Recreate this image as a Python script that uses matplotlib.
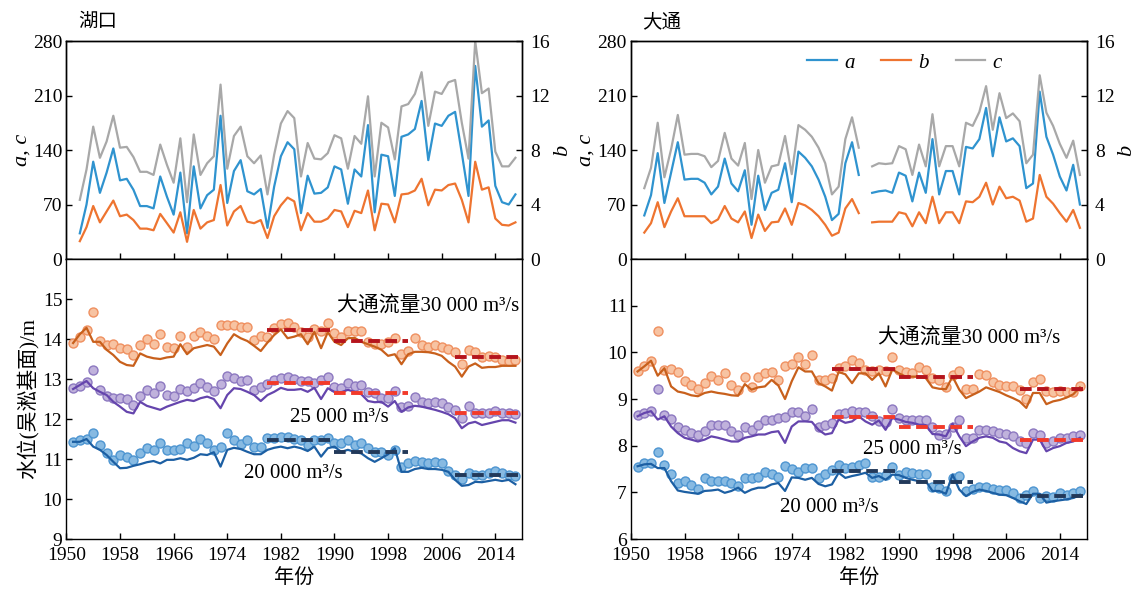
import numpy as np
import matplotlib
matplotlib.use('Agg')
import matplotlib.pyplot as plt

plt.rcParams['font.family'] = ['Liberation Serif', 'Noto Sans CJK SC']
plt.rcParams['axes.unicode_minus'] = False

# ---------------- top panels: a, c (left axis) and b (right axis) ----------------
years_top = np.arange(1952, 2018)

hk_a = [33, 70, 125, 85, 111, 142, 101, 103, 89, 68, 68, 65, 106, 80, 57, 111, 33, 119, 65, 82,
        89, 184, 72, 113, 127, 87, 83, 90, 40, 93, 132, 150, 141,
        59, 107, 84, 85, 92, 119, 115, 71, 115, 106, 172, 60, 134, 132, 81, 157, 160, 167, 203,
        127, 174, 171, 184, 189, 136, 81, 248, 170, 178, 94, 73, 70, 83]
hk_b = [1.31, 2.34, 3.89, 2.69, 3.49, 4.29, 3.14, 3.26, 2.86, 2.23, 2.23, 2.11, 3.31, 2.63, 1.94,
        3.43, 1.26, 3.60, 2.23, 2.69, 2.86, 5.43, 2.46, 3.49, 3.89, 2.74, 2.63, 2.86, 1.54, 3.14,
        3.94, 4.51, 4.23,
        2.11, 3.37, 2.74, 2.74, 2.97, 3.60, 3.49, 2.34, 3.54, 3.37, 5.03, 2.11, 4.06, 4.00, 2.69,
        4.74, 4.80, 5.03, 5.89, 3.94, 5.09, 5.03, 5.43, 5.54, 4.34, 2.69, 7.14, 5.09, 5.26, 2.97,
        2.51, 2.46, 2.69]
hk_c = [76, 115, 170, 130, 151, 184, 143, 144, 131, 112, 112, 108, 147, 121, 98, 155, 73, 160, 108,
        123, 132, 224, 116, 158, 170, 132, 123, 133, 83, 134, 174, 190, 181,
        106, 149, 129, 128, 136, 159, 155, 116, 158, 148, 209, 106, 175, 169, 128, 196, 199, 212,
        240, 171, 215, 212, 227, 230, 175, 129, 280, 213, 219, 138, 119, 119, 130]

nan = np.nan
dt_a = [56, 82, 136, 72, 111, 150, 102, 103, 103, 98, 83, 93, 129, 97, 87, 114, 44, 107, 63, 85,
        89, 123, 73, 138, 130, 119, 102, 80, 50, 58, 123, 150, 108,
        nan,
        85, 87, 88, 85, 111, 107, 74, 111, 85, 154, 83, 113, 113, 83, 144, 142, 154, 194, 132, 182,
        151, 155, 145, 91, 97, 215, 157, 134, 106, 88, 121, 70]
dt_b = [1.94, 2.63, 4.17, 2.34, 3.49, 4.46, 3.14, 3.14, 3.14, 3.14, 2.63, 2.91, 3.89, 2.97, 2.69,
        3.49, 1.54, 3.26, 2.06, 2.69, 2.74, 3.71, 2.51, 4.11, 3.94, 3.60, 3.14, 2.51, 1.71, 1.94,
        3.71, 4.40, 3.37,
        nan,
        2.69, 2.74, 2.74, 2.74, 3.43, 3.31, 2.40, 3.43, 2.63, 4.57, 2.63, 3.43, 3.43, 2.63, 4.23,
        4.17, 4.57, 5.60, 4.00, 5.31, 4.46, 4.57, 4.29, 2.74, 2.97, 6.17, 4.57, 4.06, 3.37, 2.74,
        3.60, 2.29]
dt_c = [91, 117, 175, 105, 141, 185, 134, 135, 135, 132, 118, 126, 162, 129, 120, 149, 77, 140, 98,
        119, 121, 158, 109, 172, 166, 157, 143, 123, 83, 93, 154, 182, 143,
        nan,
        119, 123, 122, 123, 145, 141, 108, 147, 119, 186, 119, 145, 145, 119, 175, 171, 189, 222,
        166, 213, 181, 187, 177, 123, 134, 236, 188, 171, 148, 130, 152, 108]

# ---------------- bottom panels: water level at fixed Datong discharge ----------------
years_wl = np.arange(1951, 2018)

hk_30_pts = [13.89, 14.06, 14.23, 14.67, 13.95, 13.85, 13.87, 13.78, 13.75, 13.60,
             13.85, 13.99, 13.87, 14.13, 13.81, 13.77, 14.08, 13.81, 14.08, 14.17,
             14.08, 14.00, 14.35, 14.35, 14.35, 14.29, 14.29, 13.98, 14.08, 14.04,
             14.27, 14.38, 14.41, 14.31, 14.18, 14.06, 14.25, 14.20, 14.39, 14.15,
             14.04, 14.20, 14.20, 14.20, 13.93, 13.87, 13.87, 13.93, 14.03, 13.63,
             13.71, 14.02, 13.85, 13.79, 13.85, 13.81, 13.75, 13.68, 13.37, 13.73,
             13.68, 13.56, 13.58, 13.56, 13.48, 13.46, 13.48]
hk_30_line = [13.90, 14.12, 14.28, 13.93, 13.93, 13.73, 13.60, 13.43, 13.35, 13.33,
              13.64, 13.56, 13.52, 13.50, 13.54, 13.56, 13.87, 13.62, 13.77, 13.81,
              13.85, 13.81, 13.60, 13.89, 14.12, 14.02, 13.95, 13.83, 13.70, 13.91,
              14.10, 14.24, 14.02, 14.06, 14.12, 13.87, 14.18, 13.77, 14.17, 13.93,
              13.85, 14.02, 14.03, 13.93, 13.87, 13.81, 13.73, 13.58, 13.62, 13.37,
              13.62, 13.68, 13.68, 13.67, 13.64, 13.58, 13.43, 13.31, 13.06, 13.31,
              13.39, 13.28, 13.30, 13.30, 13.33, 13.33, 13.33]
hk_25_pts = [12.77, 12.83, 12.93, 13.23, 12.73, 12.58, 12.52, 12.52, 12.49, 12.35,
             12.58, 12.73, 12.64, 12.83, 12.60, 12.58, 12.74, 12.71, 12.77, 12.91,
             12.81, 12.71, 12.88, 13.08, 13.02, 12.96, 12.98, 12.73, 12.81, 12.88,
             12.98, 13.02, 13.04, 12.99, 12.96, 12.96, 12.89, 12.98, 13.04, 12.81,
             12.77, 12.89, 12.83, 12.85, 12.68, 12.64, 12.52, 12.52, 12.71, 12.31,
             12.33, 12.56, 12.43, 12.39, 12.43, 12.39, 12.31, 12.23, 12.02, 12.33,
             12.14, 12.14, 12.14, 12.21, 12.14, 12.14, 12.13]
hk_25_line = [12.75, 12.85, 12.95, 12.77, 12.68, 12.60, 12.43, 12.31, 12.18, 12.14,
              12.43, 12.33, 12.28, 12.23, 12.31, 12.37, 12.43, 12.48, 12.45, 12.52,
              12.56, 12.50, 12.27, 12.60, 12.77, 12.75, 12.68, 12.60, 12.45, 12.60,
              12.68, 12.78, 12.73, 12.73, 12.75, 12.68, 12.78, 12.50, 12.77, 12.68,
              12.67, 12.73, 12.68, 12.62, 12.45, 12.42, 12.43, 12.31, 12.45, 12.18,
              12.29, 12.33, 12.31, 12.27, 12.23, 12.18, 12.12, 12.02, 11.77, 11.89,
              11.93, 11.85, 11.89, 11.93, 11.97, 11.97, 11.91]
hk_20_pts = [11.43, 11.48, 11.49, 11.64, 11.35, 11.14, 10.98, 11.10, 11.06, 10.98,
             11.16, 11.27, 11.22, 11.39, 11.22, 11.22, 11.24, 11.41, 11.33, 11.49,
             11.39, 11.22, 11.31, 11.66, 11.48, 11.38, 11.48, 11.31, 11.29, 11.52,
             11.52, 11.56, 11.54, 11.49, 11.48, 11.35, 11.48, 11.48, 11.52, 11.39,
             11.39, 11.48, 11.35, 11.39, 11.27, 11.18, 11.18, 11.10, 11.22, 10.81,
             10.91, 10.95, 10.93, 10.89, 10.93, 10.89, 10.71, 10.60, 10.49, 10.64,
             10.60, 10.60, 10.64, 10.71, 10.64, 10.60, 10.58]
hk_20_line = [11.43, 11.43, 11.50, 11.31, 11.23, 11.10, 10.93, 10.77, 10.78, 10.83,
              10.87, 10.92, 10.95, 10.89, 10.98, 10.98, 11.02, 10.98, 11.03, 11.12,
              11.10, 11.17, 10.81, 11.23, 11.28, 11.25, 11.18, 11.12, 11.12, 11.23,
              11.28, 11.31, 11.27, 11.31, 11.27, 11.20, 11.31, 11.06, 11.27, 11.31,
              11.18, 11.23, 11.18, 11.14, 11.02, 10.93, 11.02, 11.12, 11.27, 10.68,
              10.68, 10.75, 10.78, 10.75, 10.75, 10.73, 10.68, 10.48, 10.33, 10.35,
              10.43, 10.42, 10.45, 10.48, 10.45, 10.48, 10.37]

dt_30_pts = [9.59, 9.70, 9.82, 10.46, 9.63, 9.65, 9.58, 9.39, 9.29, 9.22,
             9.34, 9.50, 9.41, 9.55, 9.29, 9.20, 9.48, 9.25, 9.48, 9.55,
             9.58, 9.41, 9.70, 9.75, 9.90, 9.75, 9.95, 9.41, 9.41, 9.45,
             9.66, 9.70, 9.84, 9.77, 9.63, 9.60, 9.63, 9.59, 9.89, 9.63,
             9.58, 9.55, 9.68, 9.63, 9.44, 9.41, 9.25, 9.52, 9.60, 9.22,
             9.22, 9.53, 9.52, 9.36, 9.29, 9.27, 9.27, 9.20, 9.00, 9.36,
             9.43, 9.18, 9.16, 9.18, 9.15, 9.16, 9.27]
dt_30_line = [9.59, 9.70, 9.82, 9.50, 9.66, 9.27, 9.16, 9.13, 9.08, 9.06,
              9.13, 9.16, 9.13, 9.11, 9.08, 9.07, 9.32, 9.20, 9.25, 9.27,
              9.41, 9.29, 9.00, 9.38, 9.68, 9.59, 9.59, 9.34, 9.27, 9.18,
              9.58, 9.53, 9.34, 9.55, 9.55, 9.41, 9.55, 9.27, 9.63, 9.55,
              9.48, 9.48, 9.48, 9.45, 9.25, 9.22, 9.21, 9.48, 9.20, 9.02,
              9.09, 9.16, 9.25, 9.20, 9.15, 9.08, 9.02, 8.95, 8.81, 9.13,
              9.13, 8.89, 8.95, 8.98, 9.03, 9.10, 9.25]
dt_25_pts = [8.65, 8.70, 8.75, 9.21, 8.65, 8.58, 8.40, 8.34, 8.27, 8.22,
             8.31, 8.45, 8.44, 8.45, 8.31, 8.22, 8.39, 8.34, 8.45, 8.56,
             8.54, 8.59, 8.61, 8.72, 8.72, 8.63, 8.79, 8.41, 8.45, 8.49,
             8.68, 8.70, 8.74, 8.72, 8.72, 8.63, 8.52, 8.50, 8.79, 8.59,
             8.56, 8.56, 8.56, 8.56, 8.41, 8.22, 8.24, 8.41, 8.54, 8.17,
             8.17, 8.34, 8.34, 8.31, 8.27, 8.24, 8.20, 8.11, 8.06, 8.27,
             8.22, 8.06, 8.09, 8.17, 8.17, 8.20, 8.22]
dt_25_line = [8.63, 8.70, 8.74, 8.56, 8.63, 8.41, 8.27, 8.17, 8.13, 8.09,
              8.13, 8.20, 8.17, 8.13, 8.09, 8.09, 8.17, 8.20, 8.24, 8.24,
              8.29, 8.31, 8.06, 8.41, 8.52, 8.52, 8.51, 8.34, 8.24, 8.27,
              8.56, 8.49, 8.52, 8.63, 8.52, 8.45, 8.54, 8.34, 8.59, 8.56,
              8.51, 8.49, 8.45, 8.44, 8.25, 8.24, 8.20, 8.47, 8.20, 7.99,
              8.09, 8.17, 8.20, 8.17, 8.09, 8.06, 7.95, 7.88, 7.84, 8.13,
              8.13, 7.88, 7.95, 7.99, 8.06, 8.09, 8.17]
dt_20_pts = [7.54, 7.63, 7.63, 7.86, 7.58, 7.40, 7.20, 7.24, 7.15, 7.08,
             7.31, 7.24, 7.24, 7.24, 7.20, 7.13, 7.30, 7.30, 7.32, 7.44,
             7.40, 7.32, 7.57, 7.49, 7.44, 7.52, 7.52, 7.30, 7.40, 7.47,
             7.58, 7.52, 7.54, 7.58, 7.63, 7.32, 7.32, 7.38, 7.54, 7.38,
             7.44, 7.42, 7.40, 7.40, 7.11, 7.10, 7.03, 7.31, 7.35, 7.03,
             7.08, 7.11, 7.11, 7.08, 7.04, 7.04, 6.99, 6.88, 6.95, 7.03,
             6.87, 6.92, 6.90, 6.99, 6.95, 6.99, 7.03]
dt_20_line = [7.56, 7.60, 7.61, 7.52, 7.52, 7.24, 7.04, 7.01, 6.99, 6.97,
              7.03, 7.04, 7.06, 6.99, 7.03, 7.10, 6.99, 7.06, 7.10, 7.10,
              7.17, 7.20, 7.03, 7.32, 7.31, 7.27, 7.31, 7.18, 7.13, 7.17,
              7.42, 7.31, 7.35, 7.38, 7.42, 7.31, 7.35, 7.27, 7.38, 7.37,
              7.31, 7.27, 7.24, 7.24, 7.03, 7.03, 6.97, 7.38, 7.06, 6.92,
              7.01, 7.06, 7.03, 6.99, 6.95, 6.94, 6.88, 6.81, 6.75, 6.97,
              6.97, 6.78, 6.81, 6.83, 6.85, 6.88, 6.95]

# period means (dashed segments)
seg_start = [1980, 1990, 2008]
seg_end = [1990, 2001, 2018]
hk_30_mean = [14.22, 13.96, 13.55]
hk_25_mean = [12.91, 12.64, 12.15]
hk_20_mean = [11.47, 11.17, 10.59]
dt_30_mean = [9.64, 9.47, 9.21]
dt_25_mean = [8.61, 8.40, 8.12]
dt_20_mean = [7.45, 7.23, 6.93]

C_A, C_B, C_C = '#2f93cf', '#ee7430', '#a8a8a8'
ORANGE = ('#c8601c', '#f7c3a2', '#ef9060', '#b5141c')
PURPLE = ('#6545ad', '#c0b2dc', '#8c78c0', '#f23a2a')
BLUE = ('#1c5fa3', '#87bae2', '#4d95d1', '#22395a')

fig = plt.figure(figsize=(11.45, 5.96), dpi=100)

L_X, R_X, W = 0.058, 0.551, 0.398
TOP_Y, TOP_H = 0.5654, 0.3658
BOT_Y, BOT_H = 0.0956, 0.4698
TICK_FS = 14


def style(ax):
    ax.tick_params(direction='in', length=4, labelsize=TICK_FS, width=1, pad=3)
    for s in ax.spines.values():
        s.set_linewidth(1)


def top_panel(x0, a, b, c, title, legend=False):
    ax = fig.add_axes([x0, TOP_Y, W, TOP_H])
    ax2 = ax.twinx()
    la, = ax.plot(years_top, a, color=C_A, lw=1.6)
    lc, = ax.plot(years_top, c, color=C_C, lw=1.6)
    lb, = ax2.plot(years_top, b, color=C_B, lw=1.6)
    ax.set_xlim(1950, 2018)
    ax.set_ylim(0, 280)
    ax.set_yticks(np.arange(0, 281, 70))
    ax2.set_ylim(0, 16)
    ax2.set_yticks(np.arange(0, 17, 4))
    ax.set_xticks(np.arange(1958, 2018, 8))
    ax.tick_params(axis='x', labelbottom=False)
    style(ax)
    style(ax2)
    ax2.tick_params(axis='y', pad=6)
    ax.set_ylabel('a, c', fontstyle='italic', fontsize=16, labelpad=1)
    ax2.set_ylabel('b', fontstyle='italic', fontsize=16, labelpad=2)
    ax.text(0.025, 1.045, title, transform=ax.transAxes, fontsize=14, va='bottom')
    if legend:
        ax.legend([la, lb, lc], ['a', 'b', 'c'], loc='center', bbox_to_anchor=(0.6, 0.9),
                  ncol=3, frameon=False, handlelength=1.4, columnspacing=1.3, handletextpad=0.35,
                  prop={'style': 'italic', 'size': 15})
    return ax


def bottom_panel(x0, groups, ylim, yticks, labels):
    ax = fig.add_axes([x0, BOT_Y, W, BOT_H])
    for pts, line, means, cols in groups:
        ax.scatter(years_wl, pts, s=42, facecolor=cols[1], edgecolor=cols[2], lw=1, zorder=2)
        ax.plot(years_wl, line, color=cols[0], lw=1.6, zorder=3)
        for s, e, m in zip(seg_start, seg_end, means):
            ax.plot([s, e], [m, m], color=cols[3], lw=2.8, dashes=(3.0, 1.4), zorder=4,
                    solid_capstyle='butt', dash_capstyle='butt')
    ax.set_xlim(1950, 2018)
    ax.set_ylim(*ylim)
    ax.set_yticks(yticks)
    ax.set_xticks(np.arange(1950, 2018, 8))
    style(ax)
    ax.tick_params(axis='x', pad=6)
    ax.set_xlabel('年份', fontsize=14.5, labelpad=3)
    for x, y, txt, ha in labels:
        ax.text(x, y, txt, fontsize=15, ha=ha, va='center', zorder=5)
    return ax


top_panel(L_X, hk_a, hk_b, hk_c, '湖口')
top_panel(R_X, dt_a, dt_b, dt_c, '大通', legend=True)

axl = bottom_panel(L_X,
                   [(hk_30_pts, hk_30_line, hk_30_mean, ORANGE),
                    (hk_25_pts, hk_25_line, hk_25_mean, PURPLE),
                    (hk_20_pts, hk_20_line, hk_20_mean, BLUE)],
                   (9, 16), np.arange(9, 16),
                   [(2017.6, 14.8, '大通流量30 000 m³/s', 'right'),
                    (1990.8, 12.03, '25 000 m³/s', 'center'),
                    (1983.8, 10.65, '20 000 m³/s', 'center')])
axl.set_ylabel('水位(吴淞基面)/m', fontsize=15, labelpad=3)

bottom_panel(R_X,
             [(dt_30_pts, dt_30_line, dt_30_mean, ORANGE),
              (dt_25_pts, dt_25_line, dt_25_mean, PURPLE),
              (dt_20_pts, dt_20_line, dt_20_mean, BLUE)],
             (6, 12), np.arange(6, 12),
             [(2000.4, 10.29, '大通流量30 000 m³/s', 'center'),
              (1992.0, 7.92, '25 000 m³/s', 'center'),
              (1979.6, 6.68, '20 000 m³/s', 'center')])

fig.savefig('out.png', dpi=100)
